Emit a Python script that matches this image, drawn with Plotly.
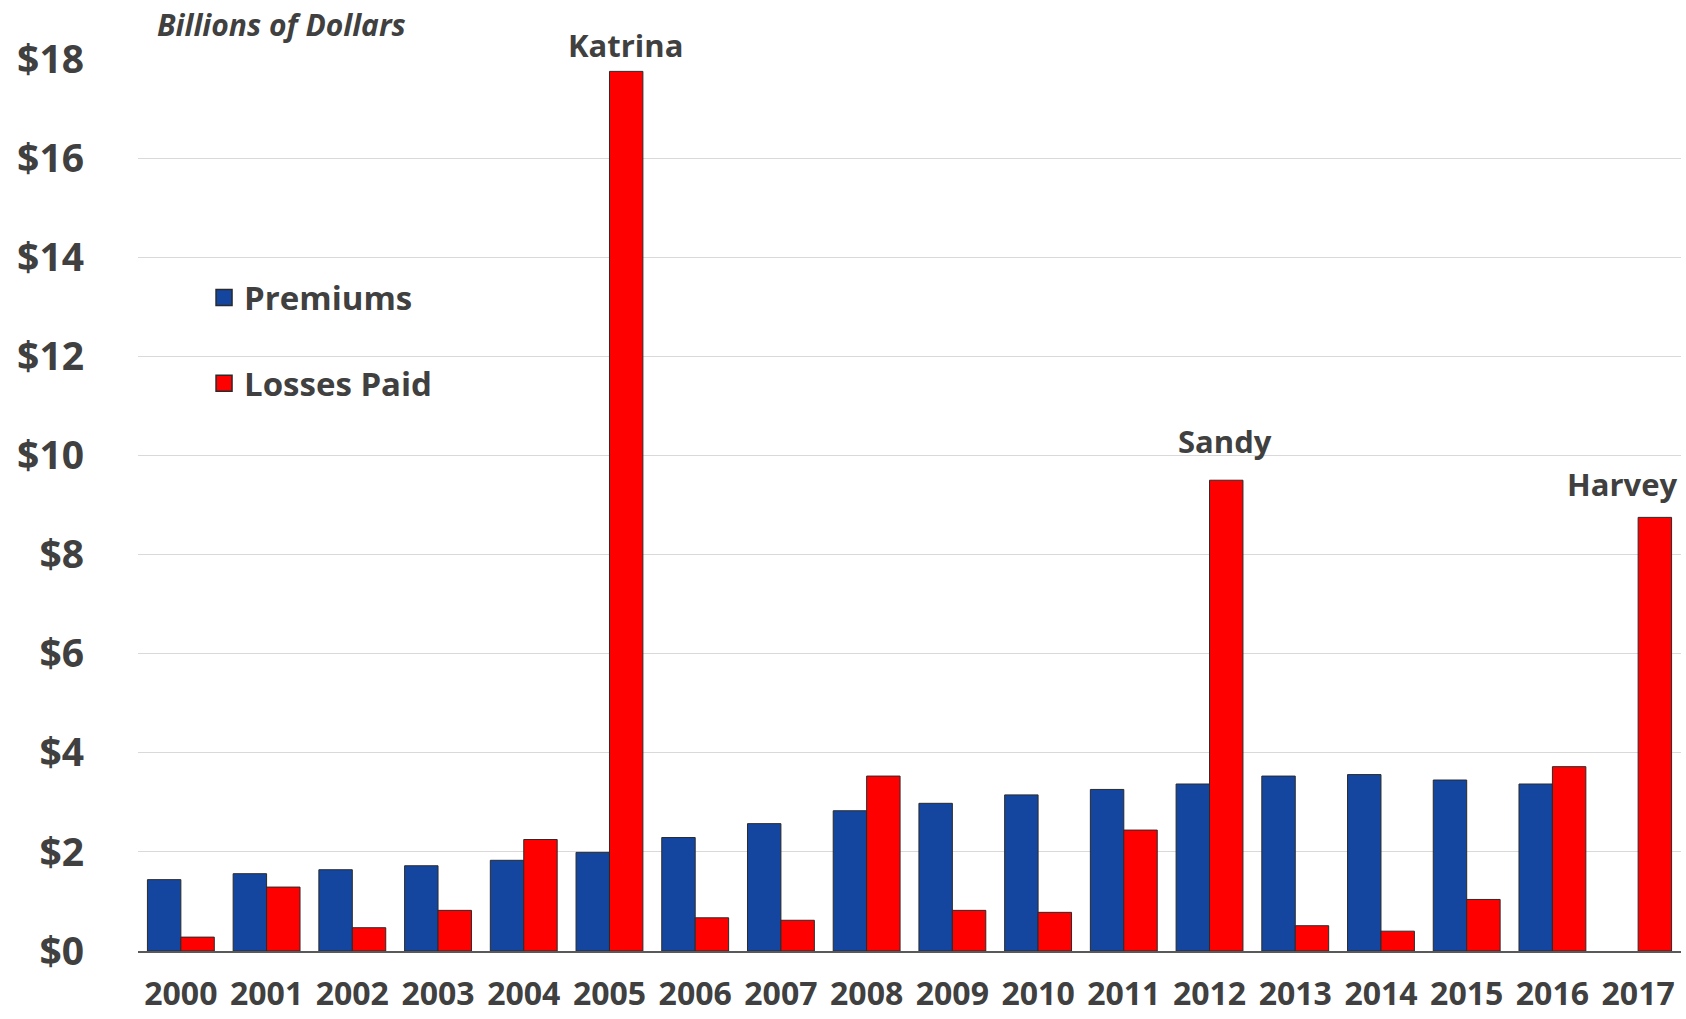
import plotly.graph_objects as go

# Flood insurance premiums vs. losses paid, billions of dollars
years = [str(y) for y in range(2000, 2018)]
premiums = [1.44, 1.56, 1.64, 1.72, 1.83, 1.99, 2.29, 2.57, 2.83, 2.98,
            3.15, 3.26, 3.37, 3.53, 3.56, 3.45, 3.37, None]
losses_paid = [0.28, 1.29, 0.47, 0.82, 2.25, 17.75, 0.67, 0.62, 3.53, 0.82,
               0.78, 2.44, 9.5, 0.51, 0.40, 1.04, 3.72, 8.75]
storms = {"2005": "Katrina", "2012": "Sandy", "2017": "Harvey"}
y_ticks = [0, 2, 4, 6, 8, 10, 12, 14, 16, 18]
y_tick_labels = [f"${v}" for v in y_ticks]

FONT = "Open Sans"
TEXT = "#404040"
BLUE = "#1446A0"
RED = "#FF0000"
EDGE = "#2a2a2a"

fig = go.Figure()
fig.add_trace(go.Bar(
    x=years, y=premiums, name="Premiums", showlegend=False,
    marker=dict(color=BLUE, line=dict(color=EDGE, width=1)),
))
fig.add_trace(go.Bar(
    x=years, y=losses_paid, name="Losses Paid", showlegend=False,
    marker=dict(color=RED, line=dict(color=EDGE, width=1)),
))

# legend entries with larger square swatches
for name, color, grp in [("Premiums", BLUE, "p"), ("Losses Paid", RED, "l")]:
    fig.add_trace(go.Scatter(
        x=[None], y=[None], mode="markers", name=name, legendgroup=grp,
        marker=dict(symbol="square", size=16, color=color, line=dict(color=EDGE, width=1.5)),
    ))

# storm labels above the losses bars (x given as category index)
shifts = {"2005": (16, 3, "center"), "2012": (15, 16, "center"), "2017": (41, 10, "right")}
for yr, name in storms.items():
    i = years.index(yr)
    xs, ys, anchor = shifts[yr]
    fig.add_annotation(
        x=i, y=losses_paid[i], xref="x", yref="y",
        text=name, showarrow=False, xanchor=anchor, yanchor="bottom",
        xshift=xs, yshift=ys,
        font=dict(family=FONT, size=31, color=TEXT, weight="bold"),
    )

fig.add_annotation(
    x=0.011, y=1.039, xref="paper", yref="paper", xanchor="left", yanchor="middle",
    text="<i>Billions of Dollars</i>", showarrow=False,
    font=dict(family=FONT, size=30, color=TEXT, weight="bold"),
)

fig.update_layout(
    width=1686, height=1019,
    margin=dict(l=138, r=5, t=59, b=68),
    paper_bgcolor="white", plot_bgcolor="white",
    barmode="group", bargap=0.22, bargroupgap=0,
    font=dict(family=FONT, color=TEXT, weight="bold"),
    showlegend=True,
    legend=dict(
        x=0.0428, y=0.764, xanchor="left", yanchor="top",
        traceorder="grouped", tracegroupgap=40,
        font=dict(family=FONT, size=33, color=TEXT, weight="bold"),
        bgcolor="rgba(0,0,0,0)",
    ),
    xaxis=dict(
        type="category", range=[-0.5, len(years) - 0.5], automargin=False,
        showgrid=False, showline=True, linecolor="#595959", linewidth=2,
        ticks="", tickfont=dict(family=FONT, size=32, color=TEXT, weight="bold"),
        ticklabelstandoff=14,
    ),
    yaxis=dict(
        range=[0, 18], tickvals=y_ticks, ticktext=y_tick_labels, automargin=False,
        showgrid=True, gridcolor="#d9d9d9", gridwidth=1, zeroline=False,
        showline=False, ticks="",
        tickfont=dict(family=FONT, size=39, color=TEXT, weight="bold"),
        ticklabelstandoff=53,
    ),
)

fig.write_html("out.html")
